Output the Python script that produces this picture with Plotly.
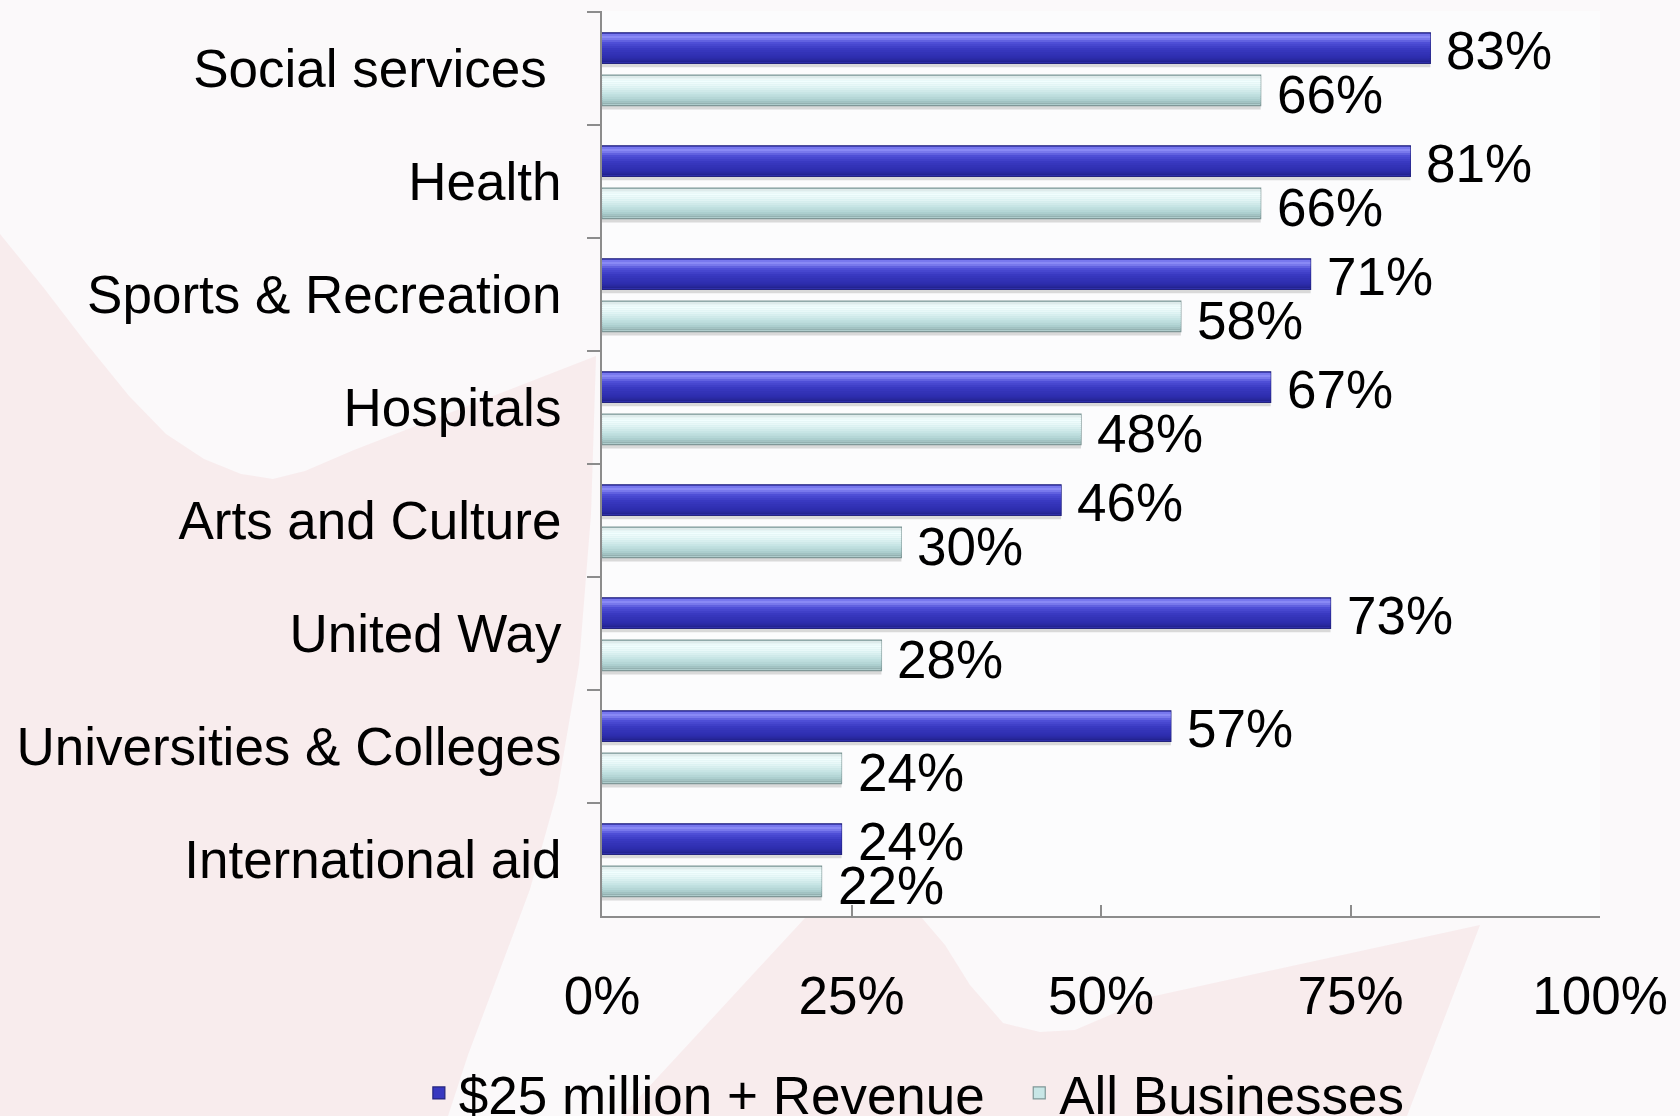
import plotly.graph_objects as go

# ---- data -------------------------------------------------------------
categories = [
    "Social services\u00a0",
    "Health",
    "Sports & Recreation",
    "Hospitals",
    "Arts and Culture",
    "United Way",
    "Universities & Colleges",
    "International aid",
]
revenue_25m = [83, 81, 71, 67, 46, 73, 57, 24]      # $25 million + Revenue
all_businesses = [66, 66, 58, 48, 30, 28, 24, 22]   # All Businesses
x_ticks = [0, 25, 50, 75, 100]
x_tick_text = ["0%", "25%", "50%", "75%", "100%"]
series_names = ["$25 million + Revenue\u00a0\u00a0", "All Businesses"]

# ---- geometry / style -------------------------------------------------
W, H = 1680, 1116
L, R, T = 602, 80, 11
AXIS_Y = 916                      # pixel row of the value axis
PH = H - T                        # paper height (bottom margin is zero)
Y_DOMAIN0 = (H - AXIS_Y) / PH
FONT = "Liberation Sans, Arial, Helvetica, sans-serif"
FS = 53

BAR_W = 0.27
OFFSETS = [-0.316, 0.058]


def hex_to_rgb(h):
    h = h.lstrip("#")
    return tuple(int(h[i:i + 2], 16) for i in (0, 2, 4))


def shade_bands(stops, n):
    """Split a bar into n horizontal strips following colour stops (top -> bottom)."""
    bands = []
    for k in range(n):
        t = (k + 0.5) / n
        for (t0, c0), (t1, c1) in zip(stops[:-1], stops[1:]):
            if t0 <= t <= t1:
                u = (t - t0) / (t1 - t0) if t1 > t0 else 0
                a, b = hex_to_rgb(c0), hex_to_rgb(c1)
                rgb = tuple(round(a[i] + (b[i] - a[i]) * u) for i in range(3))
                break
        bands.append((k / n, (k + 1) / n, "rgb(%d,%d,%d)" % rgb))
    return bands


dark_stops = [(0.0, "#7070ea"), (0.12, "#8c8cf6"), (0.3, "#5050d8"),
              (0.55, "#3838c0"), (0.85, "#2c2cab"), (1.0, "#20208a")]
light_stops = [(0.0, "#d6e4e4"), (0.14, "#f4ffff"), (0.35, "#e6f7f7"),
               (0.6, "#c8e6e6"), (0.85, "#a8cccc"), (1.0, "#8ca8a8")]
band_sets = [shade_bands(dark_stops, 14), shade_bands(light_stops, 14)]
base_colors = ["#3838c0", "#c8e6e6"]
line_colors = ["#24247e", "#7f9797"]
values = [revenue_25m, all_businesses]

fig = go.Figure()

for s in range(2):
    off = OFFSETS[s]
    # soft drop shadow under each bar
    fig.add_trace(go.Bar(
        y=categories, x=values[s], orientation="h",
        offset=off + BAR_W, width=0.035,
        marker=dict(color="rgba(110,110,110,0.25)", line=dict(width=0)),
        showlegend=False, hoverinfo="skip",
    ))
    # main bar (legend entry + outline)
    fig.add_trace(go.Bar(
        y=categories, x=values[s], orientation="h", name=series_names[s],
        offset=off, width=BAR_W,
        marker=dict(color=base_colors[s], line=dict(color=line_colors[s], width=1.2)),
        showlegend=True,
    ))
    inner0, inner_w = 0.035, 0.93
    for f0, f1, col in band_sets[s]:
        fig.add_trace(go.Bar(
            y=categories, x=values[s], orientation="h",
            offset=off + BAR_W * (inner0 + inner_w * f0),
            width=BAR_W * inner_w * (f1 - f0) * 1.02,
            marker=dict(color=col, line=dict(width=0)),
            showlegend=False, hoverinfo="skip",
        ))

# value labels
annotations = []
for s, yshift in ((0, 18), (1, -26)):
    for cat, v in zip(categories, values[s]):
        annotations.append(dict(
            x=v, y=cat, xref="x", yref="y", text=f"{v}%", showarrow=False,
            xanchor="left", yanchor="middle", xshift=14, yshift=yshift,
            font=dict(family=FONT, size=FS, color="#000000"),
        ))

# faint watermark shapes in the page background (pixel outlines -> paper coords)
pw = W - L - R


def to_paper(pts):
    out = []
    for i, (px, py) in enumerate(pts):
        xp = (px - L) / pw
        yp = (H - py) / PH
        out.append(("M" if i == 0 else "L") + f"{xp:.4f},{yp:.4f}")
    return " ".join(out) + " Z"


pink = "rgba(242,208,212,0.33)"
left_shape = [(0, 234), (43, 287), (86, 343), (129, 396), (166, 434), (204, 459),
              (241, 474), (273, 479), (305, 471), (354, 450), (596, 356),
              (591, 514), (579, 664), (557, 793), (530, 889), (498, 975),
              (468, 1055), (448, 1116), (0, 1116)]
bottom_shape = [(622, 1116), (805, 918), (922, 918), (945, 945), (970, 985),
                (1003, 1023), (1040, 1032), (1075, 1030), (1110, 1015),
                (1150, 997), (1480, 925), (1407, 1116)]
shapes = []
for pts in (left_shape, bottom_shape):
    shapes.append(dict(type="path", xref="paper", yref="paper", path=to_paper(pts),
                       fillcolor=pink, line=dict(width=0), layer="below"))

fig.update_layout(
    width=W, height=H,
    margin=dict(l=L, r=R, t=T, b=0, pad=0, autoexpand=False),
    paper_bgcolor="#fbf9fa",
    plot_bgcolor="#fcfcfd",
    barmode="overlay",
    font=dict(family=FONT, size=FS, color="#000000"),
    showlegend=True,
    legend=dict(
        orientation="h", x=0.313, xanchor="center",
        y=(H - 1093) / PH, yanchor="middle",
        bgcolor="rgba(0,0,0,0)", font=dict(family=FONT, size=FS, color="#000000"),
        itemwidth=30, tracegroupgap=0,
    ),
    annotations=annotations,
    shapes=shapes,
    xaxis=dict(
        range=[0, 100], tickmode="array", tickvals=x_ticks, ticktext=x_tick_text,
        showgrid=False, zeroline=False, automargin=False,
        showline=True, linecolor="#8c8c8c", linewidth=2,
        ticks="inside", ticklen=11, tickwidth=2, tickcolor="#8c8c8c",
        ticklabelstandoff=32,
        tickfont=dict(family=FONT, size=FS, color="#000000"),
        fixedrange=True,
    ),
    yaxis=dict(
        domain=[Y_DOMAIN0, 1],
        type="category", categoryorder="array", categoryarray=categories,
        autorange="reversed", automargin=False,
        showgrid=False, zeroline=False,
        showline=True, linecolor="#8c8c8c", linewidth=2,
        ticks="outside", tickson="boundaries", ticklen=13, tickwidth=2,
        tickcolor="#8c8c8c", ticklabelstandoff=28,
        tickfont=dict(family=FONT, size=FS, color="#000000"),
        fixedrange=True,
    ),
)

fig.write_html("out.html")
